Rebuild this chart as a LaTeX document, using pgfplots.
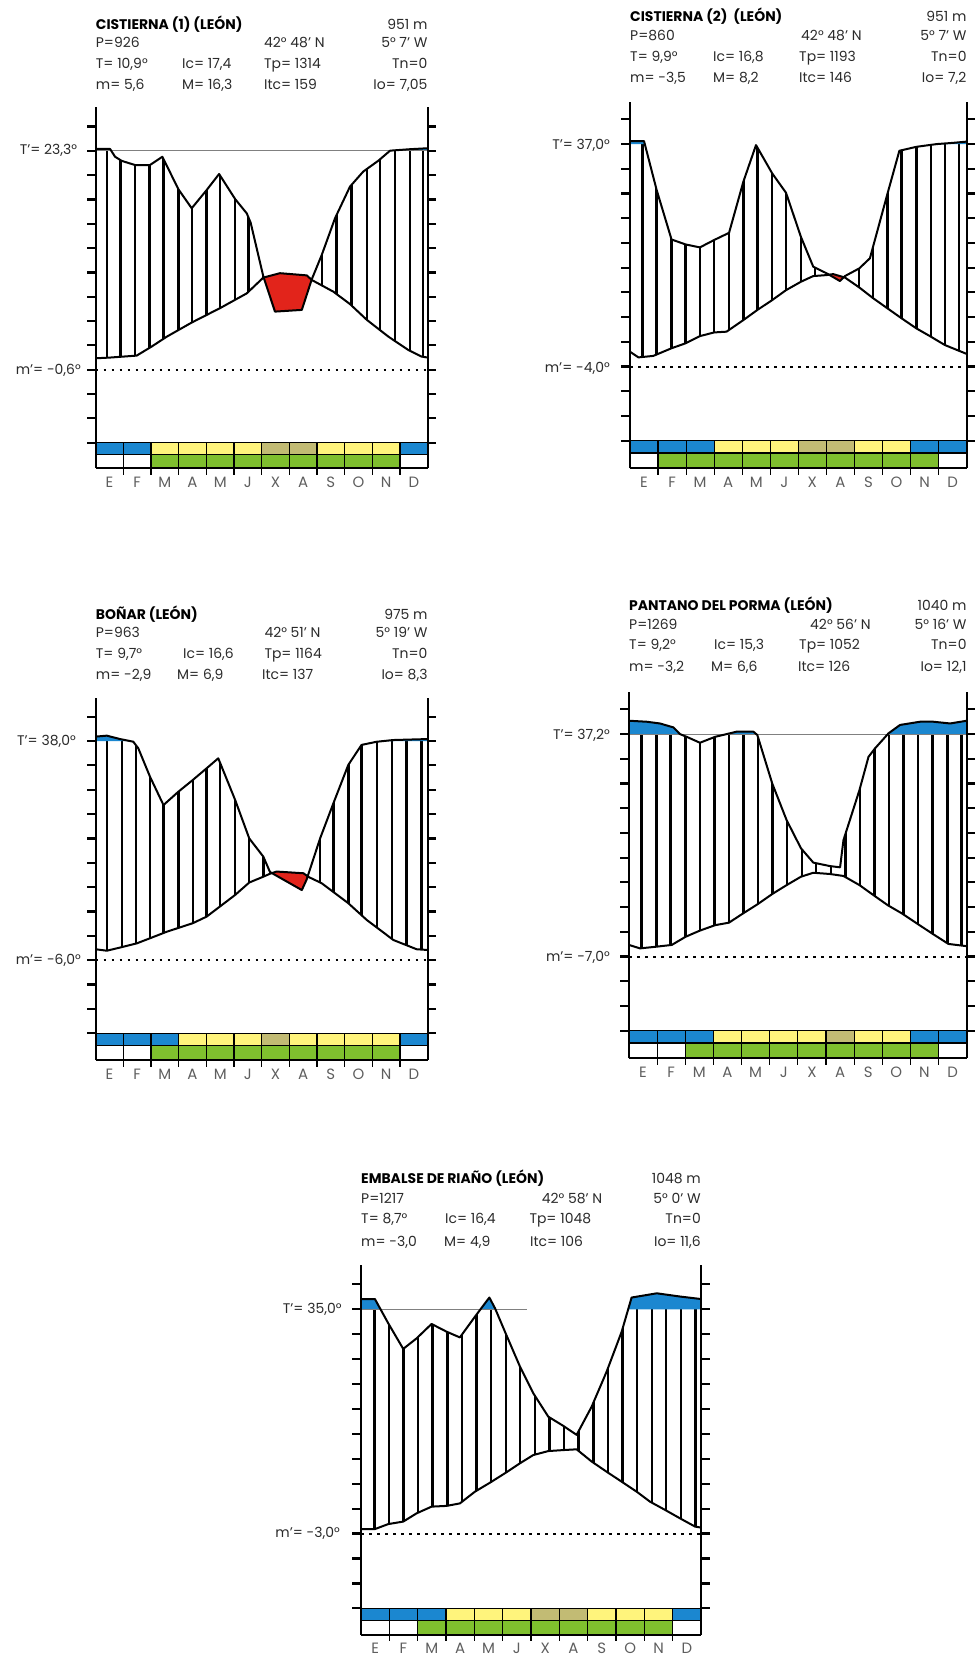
\documentclass[border=0pt]{standalone}
\usepackage{fontspec}
\setmainfont{Poppins}
\usepackage{pgfplots}
\usepackage{pgfplotstable}
\pgfplotsset{compat=1.18}
\definecolor{cblue}{HTML}{1B87D0}
\definecolor{cyellow}{HTML}{FFF47C}
\definecolor{colive}{HTML}{C2BB74}
\definecolor{cgreen}{HTML}{7FBF2E}
\definecolor{cred}{HTML}{E2241B}
\definecolor{txt}{HTML}{2A2A2A}
\definecolor{mgray}{HTML}{5E5E5E}
\pgfplotsset{
  wl/.style={scale only axis, hide axis, xmin=0, xmax=12, clip=false, anchor=south west, unbounded coords=jump},
  hatch/.style={black, line width=2.4bp},
  crv/.style={black, line width=2bp, line join=round},
  gridl/.style={black, line width=1.2bp},
  axl/.style={black, line width=2.2bp},
  dotl/.style={black, line width=2bp, dash pattern=on 2.5bp off 5.5bp},
  tline/.style={gray, line width=1bp},
}
\newcommand\bx[5]{\addplot[fill=#1,draw=none] coordinates {(#2,#4)(#3,#4)(#3,#5)(#2,#5)} --cycle;}
% fills built from the P (upper) and T (lower) tables
\newcommand\fills[2]{%
\addplot[fill=cblue,draw=none] table {#1} -- (axis cs:12,12) -- (axis cs:0,12) -- cycle;
\addplot[fill=white,draw=none] table {#1} |- (rel axis cs:0,1) -- cycle;
\addplot[fill=white,draw=none] table {#2} \closedcycle;}
\newcommand\ticksLR{%
\addplot[axl] coordinates {(-0.305,0)(0,0)(0,nan)(-0.305,1)(0,1)(0,nan)(-0.305,2)(0,2)(0,nan)(-0.305,3)(0,3)(0,nan)(-0.305,4)(0,4)(0,nan)(-0.305,5)(0,5)(0,nan)(-0.305,6)(0,6)(0,nan)(-0.305,7)(0,7)(0,nan)(-0.305,8)(0,8)(0,nan)(-0.305,9)(0,9)(0,nan)(-0.305,10)(0,10)(0,nan)(-0.305,11)(0,11)(0,nan)(-0.305,12)(0,12)(0,nan)(-0.305,13)(0,13)};
\addplot[axl] coordinates {(12,0)(12.305,0)(12,nan)(12,1)(12.305,1)(12,nan)(12,2)(12.305,2)(12,nan)(12,3)(12.305,3)(12,nan)(12,4)(12.305,4)(12,nan)(12,5)(12.305,5)(12,nan)(12,6)(12.305,6)(12,nan)(12,7)(12.305,7)(12,nan)(12,8)(12.305,8)(12,nan)(12,9)(12.305,9)(12,nan)(12,10)(12.305,10)(12,nan)(12,11)(12.305,11)(12,nan)(12,12)(12.305,12)(12,nan)(12,13)(12.305,13)};}
\newcommand\seps[1]{\addplot[gridl] coordinates {(1,0)(1,#1)(1,nan)(2,0)(2,#1)(2,nan)(3,0)(3,#1)(3,nan)(4,0)(4,#1)(4,nan)(5,0)(5,#1)(5,nan)(6,0)(6,#1)(6,nan)(7,0)(7,#1)(7,nan)(8,0)(8,#1)(8,nan)(9,0)(9,#1)(9,nan)(10,0)(10,#1)(10,nan)(11,0)(11,#1)};}
\newcommand\hd[3]{\node[anchor=base west,inner sep=0] at (#1,#2) {#3};}
\newcommand\hr[3]{\node[anchor=base east,inner sep=0] at (#1,#2) {#3};}
\newcommand\ttl[2]{\node[anchor=base west,inner sep=0,font=\fontsize{14}{16}\selectfont\bfseries,text=black] at (#1) {#2};}
\newcommand\months[3]{\foreach \m [count=\i] in {E,F,M,A,M,J,X,A,S,O,N,D} {\node[anchor=base,inner sep=0,font=\fontsize{15}{15}\selectfont,text=mgray] at ({#1+(\i-0.5)*#2/12},#3) {\m};}}

% ---------- data: x in months, y in tick units (0 = bar top, 3 = m', 12 = T')
\pgfplotstableread{
x y
0 12.08
0.52 12.08
0.70 11.76
0.94 11.59
1.42 11.42
1.96 11.42
2.41 11.76
2.99 10.42
3.47 9.64
4.01 10.39
4.46 11.05
5.04 10.02
5.46 9.43
5.60 9.05
6.06 6.83
6.48 5.39
7.45 5.46
7.81 6.72
8.17 7.72
8.65 9.23
9.19 10.53
9.67 11.15
10.22 11.60
10.64 12.01
11.36 12.07
12 12.11
}\Pa
\pgfplotstableread{
x y
0 3.47
0.52 3.50
1.48 3.58
2.02 3.95
2.57 4.36
3.47 4.94
4.49 5.53
5.46 6.14
6.06 6.79
6.66 6.97
7.63 6.88
7.81 6.69
8.59 6.21
9.19 5.70
9.80 5.05
10.58 4.36
11.30 3.81
11.78 3.54
12 3.50
}\Ta
\pgfplotstableread{
x y
0 12.12
0.50 12.12
0.95 10.14
1.48 8.14
1.98 7.94
2.49 7.82
3.00 8.12
3.53 8.41
4.04 10.48
4.49 11.96
5.07 10.81
5.56 10.03
6.09 8.25
6.53 7.04
7.01 6.77
7.48 6.46
7.66 6.66
8.17 6.97
8.55 7.38
9.18 10.01
9.60 11.73
10.21 11.89
10.93 12.00
11.52 12.05
12 12.10
}\Pb
\pgfplotstableread{
x y
0 3.60
0.30 3.37
0.83 3.43
1.48 3.74
1.98 3.94
2.49 4.23
3.00 4.38
3.44 4.41
4.04 4.88
4.54 5.29
5.07 5.69
5.56 6.09
6.09 6.43
6.53 6.66
7.01 6.70
7.24 6.74
7.66 6.60
8.17 6.20
8.67 5.76
9.18 5.35
9.68 4.95
10.21 4.54
10.72 4.21
11.22 3.87
12 3.51
}\Tb
\pgfplotstableread{
x y
0 12.18
0.40 12.22
0.88 12.08
1.36 11.97
1.54 11.70
1.96 10.54
2.45 9.37
2.99 9.92
3.51 10.40
4.01 10.88
4.43 11.29
5.04 9.58
5.55 8.00
6.06 7.25
6.30 6.62
7.45 5.88
7.62 6.30
8.11 8.00
8.59 9.44
9.13 11.02
9.61 11.84
10.16 11.97
10.76 12.04
12 12.08
}\Pc
\pgfplotstableread{
x y
0 3.45
0.40 3.39
0.88 3.52
1.48 3.69
1.96 3.90
2.57 4.17
3.51 4.52
4.01 4.79
5.04 5.68
5.55 6.19
6.06 6.43
6.30 6.55
6.54 6.64
7.51 6.57
7.69 6.42
8.17 6.16
9.13 5.34
9.80 4.65
10.76 3.83
11.60 3.45
12 3.42
}\Tc
\pgfplotstableread{
x y
0 12.54
0.63 12.50
1.10 12.43
1.58 12.27
1.81 12.00
2.05 11.89
2.52 11.65
3.06 11.89
3.47 12.00
3.83 12.10
4.42 12.10
4.56 11.96
5.09 10.00
5.60 8.52
6.11 7.38
6.55 6.80
7.14 6.66
7.50 6.61
7.62 7.71
8.19 9.74
8.51 11.08
8.74 11.42
9.22 12.03
9.63 12.37
10.34 12.50
10.82 12.50
11.41 12.43
12 12.54
}\Pd
\pgfplotstableread{
x y
0 3.47
0.39 3.33
0.98 3.40
1.52 3.47
2.01 3.80
2.52 4.05
3.06 4.27
3.55 4.37
4.06 4.75
4.56 5.11
5.09 5.53
5.60 5.89
6.11 6.23
6.55 6.39
7.14 6.34
7.62 6.26
8.19 5.89
8.68 5.49
9.19 5.08
9.69 4.75
10.23 4.34
10.76 3.94
11.35 3.51
12 3.42
}\Td
\pgfplotstableread{
x y
0 12.41
0.49 12.41
0.67 12.04
0.96 11.44
1.49 10.41
1.96 10.83
2.49 11.41
3.02 11.10
3.49 10.87
4.02 11.70
4.29 12.11
4.53 12.47
4.73 12.04
5.08 11.10
5.61 9.70
6.08 8.63
6.61 7.69
7.14 7.32
7.61 6.96
8.14 8.09
8.67 9.50
9.20 11.10
9.55 12.47
10.44 12.64
11.26 12.51
12 12.41
}\Pe
\pgfplotstableread{
x y
0 3.18
0.49 3.18
0.96 3.38
1.49 3.48
1.96 3.81
2.49 4.08
3.02 4.11
3.49 4.21
4.02 4.68
4.55 5.04
5.08 5.42
5.61 5.82
6.08 6.15
6.61 6.31
7.14 6.35
7.61 6.38
8.14 5.89
8.67 5.48
9.20 5.08
9.73 4.68
10.20 4.28
10.73 3.95
11.26 3.61
11.79 3.28
12 3.24
}\Te

\begin{document}
\begin{tikzpicture}[x=1bp,y=1bp,every node/.style={font=\fontsize{14}{16}\selectfont,text=txt}]
\path (0,0) rectangle (974,1657);

% ================= Panel 1: Cistierna (1)
\begin{axis}[wl, at={(95.7bp,1188.8bp)}, width=332bp, height=361.5bp, ymin=-1.05, ymax=13.82]
\addplot[hatch] coordinates {(0.40,0)(0.40,12)(0.40,nan)(0.90,0)(0.90,12)(0.90,nan)(1.42,0)(1.42,12)(1.42,nan)(1.94,0)(1.94,12)(1.94,nan)(2.45,0)(2.45,12)(2.45,nan)(2.99,0)(2.99,12)(2.99,nan)(3.47,0)(3.47,12)(3.47,nan)(4.01,0)(4.01,12)(4.01,nan)(4.49,0)(4.49,12)(4.49,nan)(5.04,0)(5.04,12)(5.04,nan)(5.52,0)(5.52,12)(5.52,nan)(6.06,0)(6.06,12)(6.06,nan)(6.60,0)(6.60,12)(6.60,nan)(7.10,0)(7.10,12)(7.10,nan)(7.63,0)(7.63,12)(7.63,nan)(8.17,0)(8.17,12)(8.17,nan)(8.71,0)(8.71,12)(8.71,nan)(9.25,0)(9.25,12)(9.25,nan)(9.80,0)(9.80,12)(9.80,nan)(10.28,0)(10.28,12)(10.28,nan)(10.82,0)(10.82,12)(10.82,nan)(11.36,0)(11.36,12)(11.36,nan)(11.84,0)(11.84,12)};
\fills{\Pa}{\Ta}
\addplot[fill=cred,draw=none] coordinates {(6.07,6.79)(6.66,6.97)(7.63,6.88)(7.80,6.70)(7.45,5.46)(6.48,5.39)} --cycle;
\addplot[tline] coordinates {(0,12)(12,12)};
\addplot[dotl] coordinates {(0,3)(12,3)};
\addplot[crv] table {\Pa};
\addplot[crv] table {\Ta};
\bx{cblue}{0}{2}{0}{-0.5}
\bx{cyellow}{2}{6}{0}{-0.5}
\bx{colive}{6}{8}{0}{-0.5}
\bx{cyellow}{8}{11}{0}{-0.5}
\bx{cblue}{11}{12}{0}{-0.5}
\bx{white}{0}{2}{-0.5}{-1.05}
\bx{cgreen}{2}{11}{-0.5}{-1.05}
\bx{white}{11}{12}{-0.5}{-1.05}
\addplot[gridl] coordinates {(0,0)(12,0)};
\addplot[gridl] coordinates {(0,-0.5)(12,-0.5)};
\addplot[axl] coordinates {(0,-1.05)(12,-1.05)};
\seps{-1.33}
\addplot[axl] coordinates {(0,-1.05)(0,13.82)};
\addplot[axl] coordinates {(12,-1.05)(12,13.82)};
\ticksLR
\end{axis}
\ttl{95.7,1627.7}{CISTIERNA (1) (LEÓN)}
\hr{427.7}{1627.7}{951 m}
\hd{95.7}{1609.7}{P=926}
\hd{264}{1609.7}{42° 48’ N}
\hr{427.7}{1609.7}{5° 7’ W}
\hd{95.7}{1588.7}{T= 10,9°}
\hd{182}{1588.7}{Ic= 17,4}
\hd{264}{1588.7}{Tp= 1314}
\hr{427.7}{1588.7}{Tn=0}
\hd{95.7}{1567.7}{m= 5,6}
\hd{182}{1567.7}{M= 16,3}
\hd{264}{1567.7}{Itc= 159}
\hr{427.7}{1567.7}{Io= 7,05}
\hr{77.3}{1502.5}{T’= 23,3°}
\hr{81}{1282.5}{m’= -0,6°}
\months{95.7}{332}{1169.8}

% ================= Panel 2: Cistierna (2)
\begin{axis}[wl, at={(630bp,1188.6bp)}, width=336.7bp, height=366.3bp, ymin=-1.12, ymax=13.7]
\addplot[hatch] coordinates {(0.45,0)(0.45,12)(0.45,nan)(0.95,0)(0.95,12)(0.95,nan)(1.48,0)(1.48,12)(1.48,nan)(1.98,0)(1.98,12)(1.98,nan)(2.49,0)(2.49,12)(2.49,nan)(3.00,0)(3.00,12)(3.00,nan)(3.52,0)(3.52,12)(3.52,nan)(4.04,0)(4.04,12)(4.04,nan)(4.54,0)(4.54,12)(4.54,nan)(5.07,0)(5.07,12)(5.07,nan)(5.56,0)(5.56,12)(5.56,nan)(6.09,0)(6.09,12)(6.09,nan)(6.59,0)(6.59,12)(6.59,nan)(7.13,0)(7.13,12)(7.13,nan)(7.66,0)(7.66,12)(7.66,nan)(8.17,0)(8.17,12)(8.17,nan)(8.67,0)(8.67,12)(8.67,nan)(9.18,0)(9.18,12)(9.18,nan)(9.68,0)(9.68,12)(9.68,nan)(10.21,0)(10.21,12)(10.21,nan)(10.72,0)(10.72,12)(10.72,nan)(11.22,0)(11.22,12)(11.22,nan)(11.72,0)(11.72,12)};
\fills{\Pb}{\Tb}
\addplot[fill=cred,draw=none] coordinates {(7.09,6.715)(7.24,6.74)(7.62,6.61)(7.48,6.46)} --cycle;
\addplot[dotl] coordinates {(0,3)(12,3)};
\addplot[crv] table {\Pb};
\addplot[crv] table {\Tb};
\bx{cblue}{0}{3}{0}{-0.5}
\bx{cyellow}{3}{6}{0}{-0.5}
\bx{colive}{6}{8}{0}{-0.5}
\bx{cyellow}{8}{10}{0}{-0.5}
\bx{cblue}{10}{12}{0}{-0.5}
\bx{white}{0}{1}{-0.5}{-1.12}
\bx{cgreen}{1}{11}{-0.5}{-1.12}
\bx{white}{11}{12}{-0.5}{-1.12}
\addplot[gridl] coordinates {(0,0)(12,0)};
\addplot[gridl] coordinates {(0,-0.5)(12,-0.5)};
\addplot[axl] coordinates {(0,-1.12)(12,-1.12)};
\seps{-1.4}
\addplot[axl] coordinates {(0,-1.12)(0,13.7)};
\addplot[axl] coordinates {(12,-1.12)(12,13.7)};
\ticksLR
\end{axis}
\ttl{630,1635.3}{CISTIERNA (2)\ \ (LEÓN)}
\hr{966.7}{1635.3}{951 m}
\hd{630}{1616.3}{P=860}
\hd{801}{1616.3}{42° 48’ N}
\hr{966.7}{1616.3}{5° 7’ W}
\hd{630}{1595.3}{T= 9,9°}
\hd{713}{1595.3}{Ic= 16,8}
\hd{799}{1595.3}{Tp= 1193}
\hr{966.7}{1595.3}{Tn=0}
\hd{630}{1574.3}{m= -3,5}
\hd{713}{1574.3}{M= 8,2}
\hd{799}{1574.3}{Itc= 146}
\hr{966.7}{1574.3}{Io= 7,2}
\hr{610}{1507.5}{T’= 37,0°}
\hr{610}{1284.2}{m’= -4,0°}
\months{630}{336.7}{1169.6}

% ================= Panel 3: Boñar
\begin{axis}[wl, at={(95.7bp,596.9bp)}, width=332bp, height=361.7bp, ymin=-1.1, ymax=13.75]
\addplot[hatch] coordinates {(0.40,0)(0.40,12)(0.40,nan)(0.94,0)(0.94,12)(0.94,nan)(1.46,0)(1.46,12)(1.46,nan)(1.96,0)(1.96,12)(1.96,nan)(2.45,0)(2.45,12)(2.45,nan)(2.99,0)(2.99,12)(2.99,nan)(3.51,0)(3.51,12)(3.51,nan)(4.01,0)(4.01,12)(4.01,nan)(4.49,0)(4.49,12)(4.49,nan)(5.04,0)(5.04,12)(5.04,nan)(5.55,0)(5.55,12)(5.55,nan)(6.06,0)(6.06,12)(6.06,nan)(6.58,0)(6.58,12)(6.58,nan)(7.08,0)(7.08,12)(7.08,nan)(7.60,0)(7.60,12)(7.60,nan)(8.11,0)(8.11,12)(8.11,nan)(8.59,0)(8.59,12)(8.59,nan)(9.13,0)(9.13,12)(9.13,nan)(9.61,0)(9.61,12)(9.61,nan)(10.16,0)(10.16,12)(10.16,nan)(10.72,0)(10.72,12)(10.72,nan)(11.24,0)(11.24,12)(11.24,nan)(11.78,0)(11.78,12)};
\fills{\Pc}{\Tc}
\addplot[fill=cred,draw=none] coordinates {(6.37,6.576)(6.54,6.64)(7.51,6.57)(7.66,6.44)(7.62,6.30)(7.45,5.88)} --cycle;
\addplot[dotl] coordinates {(0,3)(12,3)};
\addplot[crv] table {\Pc};
\addplot[crv] table {\Tc};
\bx{cblue}{0}{3}{0}{-0.5}
\bx{cyellow}{3}{6}{0}{-0.5}
\bx{colive}{6}{7}{0}{-0.5}
\bx{cyellow}{7}{11}{0}{-0.5}
\bx{cblue}{11}{12}{0}{-0.5}
\bx{white}{0}{2}{-0.5}{-1.1}
\bx{cgreen}{2}{11}{-0.5}{-1.1}
\bx{white}{11}{12}{-0.5}{-1.1}
\addplot[gridl] coordinates {(0,0)(12,0)};
\addplot[gridl] coordinates {(0,-0.5)(12,-0.5)};
\addplot[axl] coordinates {(0,-1.1)(12,-1.1)};
\seps{-1.38}
\addplot[axl] coordinates {(0,-1.1)(0,13.75)};
\addplot[axl] coordinates {(12,-1.1)(12,13.75)};
\ticksLR
\end{axis}
\ttl{95.7,1037.7}{BOÑAR (LEÓN)}
\hr{427.7}{1037.7}{975 m}
\hd{95.7}{1019.7}{P=963}
\hd{264.3}{1019.7}{42° 51’ N}
\hr{427.7}{1019.7}{5° 19’ W}
\hd{95.7}{998.7}{T= 9,7°}
\hd{183}{998.7}{Ic= 16,6}
\hd{264.3}{998.7}{Tp= 1164}
\hr{427.7}{998.7}{Tn=0}
\hd{95.7}{977}{m= -2,9}
\hd{177}{977}{M= 6,9}
\hd{262}{977}{Itc= 137}
\hr{427.7}{977}{Io= 8,3}
\hr{76}{911.8}{T’= 38,0°}
\hr{81}{692.5}{m’= -6,0°}
\months{95.7}{332}{577.9}

% ================= Panel 4: Pantano del Porma
\begin{axis}[wl, at={(629bp,598.6bp)}, width=337.7bp, height=366.3bp, ymin=-1.12, ymax=13.7]
\addplot[hatch] coordinates {(0.45,0)(0.45,12)(0.45,nan)(0.97,0)(0.97,12)(0.97,nan)(1.48,0)(1.48,12)(1.48,nan)(2.00,0)(2.00,12)(2.00,nan)(2.52,0)(2.52,12)(2.52,nan)(3.04,0)(3.04,12)(3.04,nan)(3.55,0)(3.55,12)(3.55,nan)(4.07,0)(4.07,12)(4.07,nan)(4.59,0)(4.59,12)(4.59,nan)(5.10,0)(5.10,12)(5.10,nan)(5.62,0)(5.62,12)(5.62,nan)(6.14,0)(6.14,12)(6.14,nan)(6.65,0)(6.65,12)(6.65,nan)(7.17,0)(7.17,12)(7.17,nan)(7.69,0)(7.69,12)(7.69,nan)(8.21,0)(8.21,12)(8.21,nan)(8.72,0)(8.72,12)(8.72,nan)(9.24,0)(9.24,12)(9.24,nan)(9.76,0)(9.76,12)(9.76,nan)(10.27,0)(10.27,12)(10.27,nan)(10.79,0)(10.79,12)(10.79,nan)(11.31,0)(11.31,12)(11.31,nan)(11.82,0)(11.82,12)};
\fills{\Pd}{\Td}
\addplot[tline] coordinates {(0,12)(12,12)};
\addplot[dotl] coordinates {(0,3)(12,3)};
\addplot[crv] table {\Pd};
\addplot[crv] table {\Td};
\bx{cblue}{0}{3}{0}{-0.5}
\bx{cyellow}{3}{7}{0}{-0.5}
\bx{colive}{7}{8}{0}{-0.5}
\bx{cyellow}{8}{10}{0}{-0.5}
\bx{cblue}{10}{12}{0}{-0.5}
\bx{white}{0}{2}{-0.5}{-1.12}
\bx{cgreen}{2}{11}{-0.5}{-1.12}
\bx{white}{11}{12}{-0.5}{-1.12}
\addplot[gridl] coordinates {(0,0)(12,0)};
\addplot[gridl] coordinates {(0,-0.5)(12,-0.5)};
\addplot[axl] coordinates {(0,-1.12)(12,-1.12)};
\seps{-1.4}
\addplot[axl] coordinates {(0,-1.12)(0,13.7)};
\addplot[axl] coordinates {(12,-1.12)(12,13.7)};
\ticksLR
\end{axis}
\ttl{629,1046.3}{PANTANO DEL PORMA (LEÓN)}
\hr{966.7}{1046.3}{1040 m}
\hd{629}{1027}{P=1269}
\hd{810}{1027}{42° 56’ N}
\hr{966.7}{1027}{5° 16’ W}
\hd{629}{1007}{T= 9,2°}
\hd{714}{1007}{Ic= 15,3}
\hd{799}{1007}{Tp= 1052}
\hr{966.7}{1007}{Tn=0}
\hd{629}{985.3}{m= -3,2}
\hd{711}{985.3}{M= 6,6}
\hd{798}{985.3}{Itc= 126}
\hr{966.7}{985.3}{Io= 12,1}
\hr{610}{917.5}{T’= 37,2°}
\hr{610}{695.8}{m’= -7,0°}
\months{629}{337.7}{579.6}

% ================= Panel 5: Embalse de Riaño
\begin{axis}[wl, at={(361bp,22bp)}, width=340bp, height=370.1bp, ymin=-1.07, ymax=13.78]
\addplot[hatch] coordinates {(0.47,0)(0.47,12)(0.47,nan)(0.99,0)(0.99,12)(0.99,nan)(1.50,0)(1.50,12)(1.50,nan)(2.02,0)(2.02,12)(2.02,nan)(2.53,0)(2.53,12)(2.53,nan)(3.05,0)(3.05,12)(3.05,nan)(3.56,0)(3.56,12)(3.56,nan)(4.08,0)(4.08,12)(4.08,nan)(4.59,0)(4.59,12)(4.59,nan)(5.11,0)(5.11,12)(5.11,nan)(5.62,0)(5.62,12)(5.62,nan)(6.14,0)(6.14,12)(6.14,nan)(6.65,0)(6.65,12)(6.65,nan)(7.17,0)(7.17,12)(7.17,nan)(7.68,0)(7.68,12)(7.68,nan)(8.20,0)(8.20,12)(8.20,nan)(8.71,0)(8.71,12)(8.71,nan)(9.23,0)(9.23,12)(9.23,nan)(9.74,0)(9.74,12)(9.74,nan)(10.26,0)(10.26,12)(10.26,nan)(10.77,0)(10.77,12)(10.77,nan)(11.29,0)(11.29,12)(11.29,nan)(11.80,0)(11.80,12)};
\fills{\Pe}{\Te}
\addplot[tline] coordinates {(0,12)(5.86,12)};
\addplot[dotl] coordinates {(0,3)(12,3)};
\addplot[crv] table {\Pe};
\addplot[crv] table {\Te};
\bx{cblue}{0}{3}{0}{-0.5}
\bx{cyellow}{3}{6}{0}{-0.5}
\bx{colive}{6}{8}{0}{-0.5}
\bx{cyellow}{8}{11}{0}{-0.5}
\bx{cblue}{11}{12}{0}{-0.5}
\bx{white}{0}{2}{-0.5}{-1.07}
\bx{cgreen}{2}{11}{-0.5}{-1.07}
\bx{white}{11}{12}{-0.5}{-1.07}
\addplot[gridl] coordinates {(0,0)(12,0)};
\addplot[gridl] coordinates {(0,-0.5)(12,-0.5)};
\addplot[axl] coordinates {(0,-1.07)(12,-1.07)};
\seps{-1.3}
\addplot[axl] coordinates {(0,-1.07)(0,13.78)};
\addplot[axl] coordinates {(12,-1.07)(12,13.78)};
\ticksLR
\end{axis}
\ttl{361,473.7}{EMBALSE DE RIAÑO (LEÓN)}
\hr{701}{473.7}{1048 m}
\hd{361}{453.7}{P=1217}
\hd{541.7}{453.7}{42° 58’ N}
\hr{701}{453.7}{5° 0’ W}
\hd{361}{433}{T= 8,7°}
\hd{445}{433}{Ic= 16,4}
\hd{529.3}{433}{Tp= 1048}
\hr{701}{433}{Tn=0}
\hd{361}{410.3}{m= -3,0}
\hd{444}{410.3}{M= 4,9}
\hd{530}{410.3}{Itc= 106}
\hr{701}{410.3}{Io= 11,6}
\hr{341.7}{343.2}{T’= 35,0°}
\hr{340}{119.2}{m’= -3,0°}
\months{361}{340}{3.5}
\pgfresetboundingbox
\useasboundingbox (0,0) rectangle (974,1657);
\end{tikzpicture}
\end{document}
